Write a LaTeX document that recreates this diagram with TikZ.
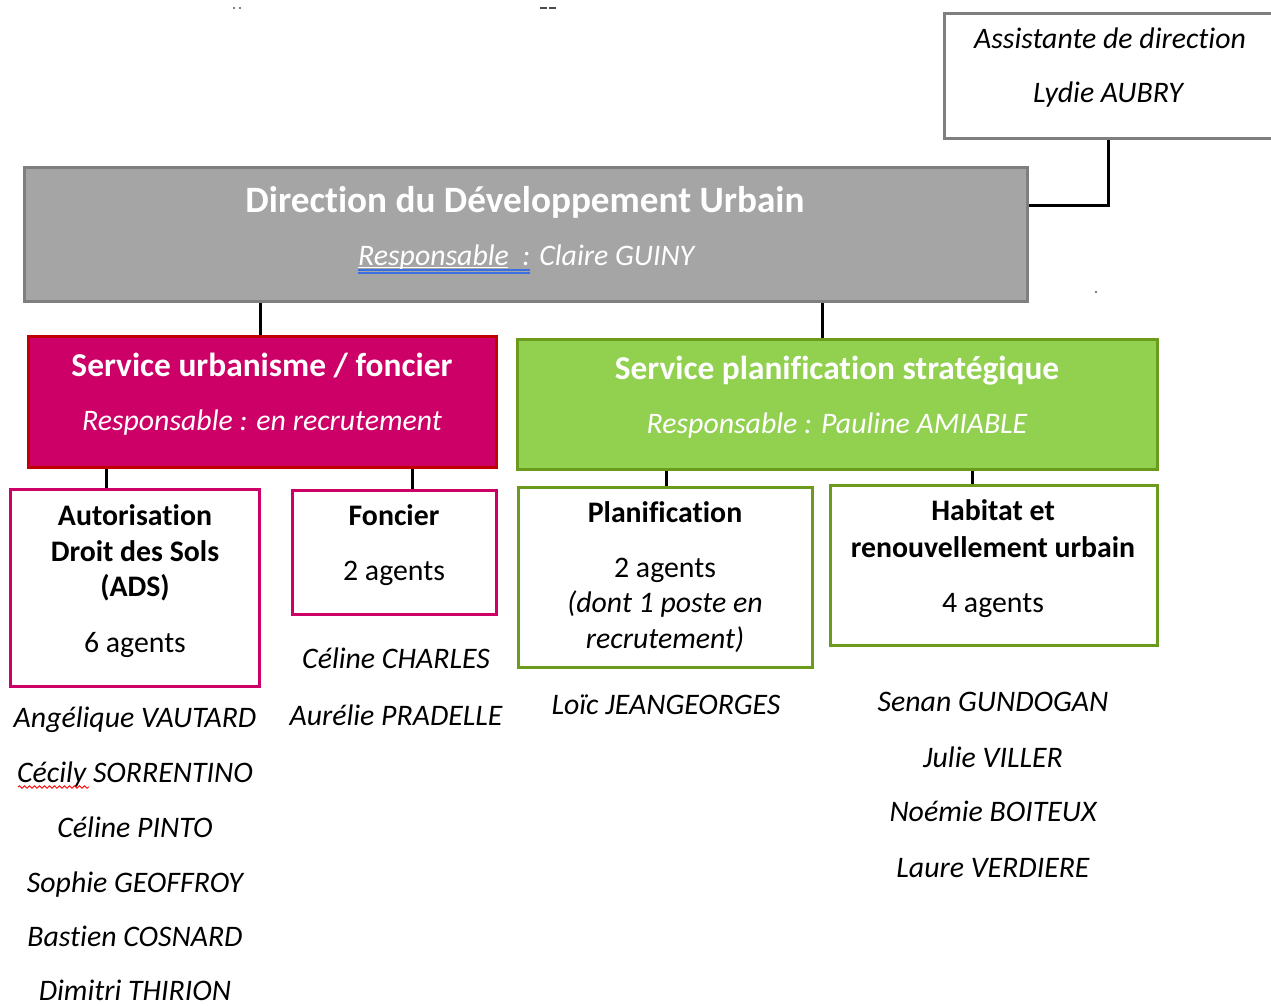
\documentclass[tikz,border=0pt]{standalone}
\usepackage{fontspec}
\setmainfont[Ligatures=NoCommon]{Carlito}
\usetikzlibrary{decorations.pathmorphing}
\definecolor{gfill}{HTML}{A5A5A5}
\definecolor{gline}{HTML}{7F7F7F}
\definecolor{rfill}{HTML}{CC0066}
\definecolor{rline}{HTML}{C00000}
\definecolor{vfill}{HTML}{92D050}
\definecolor{vline}{HTML}{6B9B1C}
\definecolor{ublue}{HTML}{3A6FE0}
\begin{document}
\begin{tikzpicture}[x=1pt,y=-1pt,
  box/.style={draw, line width=3pt, inner sep=0pt, rectangle},
  conn/.style={line width=3pt, black},
  txt/.style={inner sep=0pt, anchor=base, font=\fontsize{29.8}{36}\selectfont},
  btxt/.style={txt, font=\fontsize{29.8}{36}\selectfont\bfseries},
  itxt/.style={txt, font=\fontsize{29.8}{36}\selectfont\itshape},
  wtitle/.style={inner sep=0pt, anchor=base, text=white, font=\fontsize{33.4}{40}\selectfont\bfseries},
  wsub/.style={itxt, text=white}]
\path[use as bounding box, fill=white] (0,0) rectangle (1271,1005);
\clip (0,0) rectangle (1271,1005);

% boxes
\node[box, draw=gline, fill=white, minimum width=328.5pt, minimum height=125pt] (asst) at (1108.75,76) {};
\node[box, draw=gline, fill=gfill, minimum width=1002.5pt, minimum height=134pt] (dir) at (525.75,234.5) {};
\node[box, draw=rline, fill=rfill, minimum width=467.5pt, minimum height=131pt] (red) at (262.25,402) {};
\node[box, draw=vline, fill=vfill, minimum width=639.5pt, minimum height=130pt] (green) at (837.25,404.5) {};
\node[box, draw=rfill, fill=white, minimum width=249pt, minimum height=197pt] (ads) at (135,588) {};
\node[box, draw=rfill, fill=white, minimum width=204pt, minimum height=124pt] (fonc) at (394.5,552.5) {};
\node[box, draw=vline, fill=white, minimum width=294pt, minimum height=180pt] (plan) at (665.5,577.5) {};
\node[box, draw=vline, fill=white, minimum width=327pt, minimum height=160pt] (hab) at (994,565.5) {};

% connectors
\draw[conn] (asst.south) |- ([yshift=29.5pt]dir.east);
\draw[conn] ([xshift=-2.25pt]red.north) -- ([xshift=-2.25pt]red.north |- dir.south);
\draw[conn] ([xshift=-15.25pt]green.north) -- ([xshift=-15.25pt]green.north |- dir.south);
\draw[conn] ([xshift=-29pt]ads.north) -- ([xshift=-29pt]ads.north |- red.south);
\draw[conn] ([xshift=17.5pt]fonc.north) -- ([xshift=17.5pt]fonc.north |- red.south);
\draw[conn] ([xshift=0.5pt]plan.north) -- ([xshift=0.5pt]plan.north |- green.south);
\draw[conn] ([xshift=-22pt]hab.north) -- ([xshift=-22pt]hab.north |- green.south);

% assistant
\node[itxt] (asst1) at (1110,48) {Assistante de direction};
\node[itxt] (asst2) at (1108,102) {Lydie AUBRY};

% direction
\node[inner sep=0pt, anchor=base, text=white, font=\fontsize{37.2}{44}\selectfont\bfseries] (dtitle) at (525,212) {Direction du Développement Urbain};
\node[wsub, anchor=base west] (dsub) at (358,265) {Responsable\ \ : Claire GUINY};
\draw[white, line width=1.1pt] ([yshift=-2.3pt]dsub.base west) -- ++(150,0);
\draw[ublue, line width=1.5pt] ([yshift=-4.8pt]dsub.base west) -- ++(172,0);
\draw[ublue, line width=1.5pt] ([yshift=-8.2pt]dsub.base west) -- ++(172,0);

% services
\node[wtitle] (rtitle) at (262,376) {Service urbanisme / foncier};
\node[wsub] (rsub) at (262,430) {Responsable : en recrutement};
\node[wtitle] (vtitle) at (837,379) {Service planification stratégique};
\node[wsub] (vsub) at (837,433) {Responsable : Pauline AMIABLE};

% ADS
\node[btxt] (ads1) at (135,525) {Autorisation};
\node[btxt] (ads2) at (135,561) {Droit des Sols};
\node[btxt] (ads3) at (135,596) {(ADS)};
\node[txt] (ads4) at (135,652) {6 agents};

% Foncier
\node[btxt] (fon1) at (394,525) {Foncier};
\node[txt] (fon2) at (394,580) {2 agents};

% Planification
\node[btxt] (pl1) at (665,522) {Planification};
\node[txt] (pl2) at (665,577) {2 agents};
\node[itxt] (pl3) at (665,612) {(dont 1 poste en};
\node[itxt] (pl4) at (665,648) {recrutement)};

% Habitat
\node[btxt] (hb1) at (993,520) {Habitat et};
\node[btxt] (hb2) at (993,557) {renouvellement urbain};
\node[txt] (hb3) at (993,612) {4 agents};

% names
\node[itxt] (n1) at (135,727) {Angélique VAUTARD};
\node[itxt] (n2) at (135,782) {Cécily SORRENTINO};
\node[itxt] (n3) at (135,837) {Céline PINTO};
\node[itxt] (n4) at (135,892) {Sophie GEOFFROY};
\node[itxt] (n5) at (135,946) {Bastien COSNARD};
\node[itxt] (n6) at (135,1000) {Dimitri THIRION};
\draw[red, line width=0.9pt, decorate, decoration={snake, segment length=5pt, amplitude=1.2pt}] (18,787) -- (89,787);

\node[itxt] (f1) at (396,668) {Céline CHARLES};
\node[itxt] (f2) at (396,725) {Aurélie PRADELLE};

\node[itxt] (p1) at (666,714) {Loïc JEANGEORGES};

\node[itxt] (h1) at (993,711) {Senan GUNDOGAN};
\node[itxt] (h2) at (993,767) {Julie VILLER};
\node[itxt] (h3) at (993,821) {Noémie BOITEUX};
\node[itxt] (h4) at (993,877) {Laure VERDIERE};

% small marks
\fill[gray] (233,7) rectangle (235,9);
\fill[gray] (239,7) rectangle (241,9);
\fill[black!70] (540,7) rectangle (547,9);
\fill[black!70] (549,7) rectangle (556,9);
\fill[gray] (1095,291) rectangle (1097,293);
\end{tikzpicture}
\end{document}
